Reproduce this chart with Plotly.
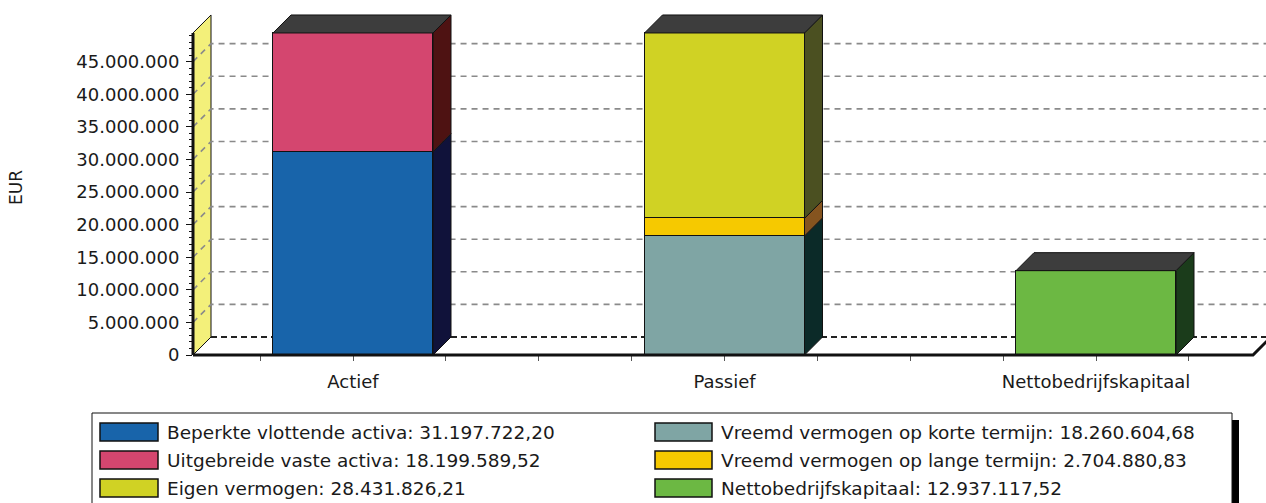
import plotly.graph_objects as go

# ---- data -------------------------------------------------------------
categories = ["Actief", "Passief", "Nettobedrijfskapitaal"]

actief_labels = ["Beperkte vlottende activa", "Uitgebreide vaste activa"]
actief_values = [31197722.20, 18199589.52]

passief_labels = ["Vreemd vermogen op korte termijn",
                  "Vreemd vermogen op lange termijn",
                  "Eigen vermogen"]
passief_values = [18260604.68, 2704880.83, 28431826.21]

netto_labels = ["Nettobedrijfskapitaal"]
netto_values = [12937117.52]

y_tick_values = [0, 5e6, 10e6, 15e6, 20e6, 25e6, 30e6, 35e6, 40e6, 45e6]

# legend order: left column then right column
legend_left = ["Beperkte vlottende activa", "Uitgebreide vaste activa", "Eigen vermogen"]
legend_right = ["Vreemd vermogen op korte termijn",
                "Vreemd vermogen op lange termijn",
                "Nettobedrijfskapitaal"]

# ---- styling ----------------------------------------------------------
front_colors = {
    "Beperkte vlottende activa": "#1864aa",
    "Uitgebreide vaste activa": "#d4466f",
    "Eigen vermogen": "#d0d224",
    "Vreemd vermogen op korte termijn": "#7fa5a4",
    "Vreemd vermogen op lange termijn": "#f6c900",
    "Nettobedrijfskapitaal": "#6cb843",
}
side_colors = {
    "Beperkte vlottende activa": "#10123a",
    "Uitgebreide vaste activa": "#4e1212",
    "Eigen vermogen": "#4b5021",
    "Vreemd vermogen op korte termijn": "#0b2a28",
    "Vreemd vermogen op lange termijn": "#85541f",
    "Nettobedrijfskapitaal": "#1b3c1b",
}
TOP_COLOR = "#3d3d3d"
WALL_COLOR = "#f3f07a"
FONT = "DejaVu Sans, Verdana, sans-serif"
TEXT_COLOR = "#1a1a1a"

W, H = 1266, 503
PLOT_LEFT, PLOT_RIGHT, PLOT_TOP, PLOT_BOTTOM = 193, 1266, 0, 355
CAT_PX = 371.5          # pixel distance between category centres
FIRST_CAT_PX = 353      # pixel position of the first category
PX_PER_EUR = 6.519e-6   # vertical scale
DEPTH_PX = 18           # 3D depth offset (right and up)
BAR_WIDTH = 160 / CAT_PX
FLOOR_RIGHT_PX = 1253

x_lo = (PLOT_LEFT - FIRST_CAT_PX) / CAT_PX
x_hi = (PLOT_RIGHT - FIRST_CAT_PX) / CAT_PX
y_hi = (PLOT_BOTTOM - PLOT_TOP) / PX_PER_EUR
DX = DEPTH_PX / CAT_PX
DY = DEPTH_PX / PX_PER_EUR
floor_right = (FLOOR_RIGHT_PX - FIRST_CAT_PX) / CAT_PX


def px_to_paper_x(px):
    return (px - PLOT_LEFT) / (PLOT_RIGHT - PLOT_LEFT)


def px_to_paper_y(py):
    return (PLOT_BOTTOM - py) / (PLOT_BOTTOM - PLOT_TOP)


def nl_number(v):
    s = f"{v:,.2f}"
    return s.replace(",", "#").replace(".", ",").replace("#", ".")


stacks = [
    (0, actief_labels, actief_values),
    (1, passief_labels, passief_values),
    (2, netto_labels, netto_values),
]
all_values = dict(zip(actief_labels + passief_labels + netto_labels,
                      actief_values + passief_values + netto_values))
max_total = max(sum(vals) for _, _, vals in stacks)

fig = go.Figure()

# front faces of the stacked bars
for xi, labels, values in stacks:
    for name, v in zip(labels, values):
        fig.add_trace(go.Bar(
            x=[xi], y=[v], width=BAR_WIDTH, name=name,
            marker=dict(color=front_colors[name], line=dict(color="#111", width=1)),
            showlegend=False, hoverinfo="skip",
        ))

# side and top faces giving the bars depth
for xi, labels, values in stacks:
    base = 0.0
    xr = xi + BAR_WIDTH / 2
    xl = xi - BAR_WIDTH / 2
    for name, v in zip(labels, values):
        top = base + v
        fig.add_trace(go.Scatter(
            x=[xr, xr + DX, xr + DX, xr, xr],
            y=[base, base + DY, top + DY, top, base],
            fill="toself", fillcolor=side_colors[name], mode="lines",
            line=dict(color="#111", width=1), showlegend=False, hoverinfo="skip",
        ))
        base = top
    fig.add_trace(go.Scatter(
        x=[xl, xl + DX, xr + DX, xr, xl],
        y=[base, base + DY, base + DY, base, base],
        fill="toself", fillcolor=TOP_COLOR, mode="lines",
        line=dict(color="#111", width=1), showlegend=False, hoverinfo="skip",
    ))

shapes = []
x0 = x_lo
# floor
shapes.append(dict(
    type="path", layer="below", xref="x", yref="y",
    path=f"M {x0},0 L {floor_right},0 L {floor_right + DX},{DY} L {x0 + DX},{DY} Z",
    fillcolor="#ffffff", line=dict(width=0),
))
# side wall
shapes.append(dict(
    type="path", layer="below", xref="x", yref="y",
    path=f"M {x0},0 L {x0 + DX},{DY} L {x0 + DX},{max_total + DY} L {x0},{max_total} Z",
    fillcolor=WALL_COLOR, line=dict(color="#111", width=1),
))
# gridlines on the wall and the back plane
for v in y_tick_values[1:]:
    shapes.append(dict(
        type="path", layer="below", xref="x", yref="y",
        path=f"M {x0},{v} L {x0 + DX},{v + DY} L {x_hi},{v + DY}",
        line=dict(color="#8a8a8a", width=1.6, dash="6px,5px"),
    ))
# back edge of the floor
shapes.append(dict(
    type="line", layer="below", xref="x", yref="y",
    x0=x0 + DX, y0=DY, x1=x_hi, y1=DY,
    line=dict(color="#222", width=2, dash="6px,4px"),
))
# front edge of the floor
dy_paper = DEPTH_PX / (PLOT_BOTTOM - PLOT_TOP)
shapes.append(dict(
    type="path", layer="above", xref="x", yref="paper",
    path=f"M {x0},0 L {floor_right},0 L {floor_right + DX},{dy_paper}",
    line=dict(color="#111", width=3),
))
# wall front edge (value axis line)
shapes.append(dict(
    type="line", layer="above", xref="paper", yref="y",
    x0=0, y0=0, x1=0, y1=max_total,
    line=dict(color="#111", width=3),
))

# ---- legend box --------------------------------------------------------
LEG_L, LEG_R, LEG_T, LEG_B = 92, 1232, 413, 515
shapes.append(dict(
    type="rect", xref="paper", yref="paper", layer="above",
    x0=px_to_paper_x(LEG_R), x1=px_to_paper_x(LEG_R + 7),
    y0=px_to_paper_y(LEG_T + 7), y1=px_to_paper_y(LEG_B),
    fillcolor="#000", line=dict(width=0),
))
shapes.append(dict(
    type="rect", xref="paper", yref="paper", layer="above",
    x0=px_to_paper_x(LEG_L), x1=px_to_paper_x(LEG_R),
    y0=px_to_paper_y(LEG_T), y1=px_to_paper_y(LEG_B),
    fillcolor="#fff", line=dict(color="#111", width=1),
))

annotations = []
row_centers = [432, 460, 488]
columns = [(legend_left, 100, 158, 165), (legend_right, 655, 712, 719)]
for names, sw_l, sw_r, text_x in columns:
    for name, yc in zip(names, row_centers):
        shapes.append(dict(
            type="rect", xref="paper", yref="paper", layer="above",
            x0=px_to_paper_x(sw_l), x1=px_to_paper_x(sw_r),
            y0=px_to_paper_y(yc + 9), y1=px_to_paper_y(yc - 9),
            fillcolor=front_colors[name], line=dict(color="#111", width=1.5),
        ))
        annotations.append(dict(
            xref="paper", yref="paper", x=px_to_paper_x(text_x), y=px_to_paper_y(yc),
            xanchor="left", yanchor="middle", showarrow=False,
            text=f"{name}: {nl_number(all_values[name])}",
            font=dict(family=FONT, size=18.5, color=TEXT_COLOR),
        ))

# value axis title
annotations.append(dict(
    xref="paper", yref="paper", x=px_to_paper_x(16), y=px_to_paper_y(188),
    xanchor="center", yanchor="middle", showarrow=False, textangle=-90,
    text="EUR", font=dict(family=FONT, size=17, color=TEXT_COLOR),
))

x_tick_vals = [-0.25, 0, 0.25, 0.5, 0.75, 1, 1.25, 1.5, 1.75, 2, 2.25]
x_tick_text = [categories[int(t)] if float(t).is_integer() else "" for t in x_tick_vals]

# minor ticks only along the wall edge
minor_tick_vals = [m * 1e6 for m in range(1, int(max_total // 1e6) + 1)]

fig.update_layout(
    width=W, height=H,
    margin=dict(l=PLOT_LEFT, r=W - PLOT_RIGHT, t=PLOT_TOP, b=H - PLOT_BOTTOM, pad=0),
    paper_bgcolor="#ffffff", plot_bgcolor="#ffffff",
    barmode="stack", bargap=0, showlegend=False,
    separators=",.",
    font=dict(family=FONT, size=18, color=TEXT_COLOR),
    shapes=shapes, annotations=annotations,
    xaxis=dict(
        range=[x_lo, x_hi], showgrid=False, zeroline=False, showline=False,
        tickmode="array", tickvals=x_tick_vals, ticktext=x_tick_text,
        ticks="outside", ticklen=5, tickwidth=1, tickcolor="#555",
        ticklabelstandoff=5,
        tickfont=dict(family=FONT, size=18, color=TEXT_COLOR),
        fixedrange=True,
    ),
    yaxis=dict(
        range=[0, y_hi], showgrid=False, zeroline=False, showline=False,
        tickmode="array", tickvals=y_tick_values, tickformat=",d",
        ticks="outside", ticklen=6, tickwidth=1, tickcolor="#111",
        ticklabelstandoff=3,
        tickfont=dict(family=FONT, size=18, color=TEXT_COLOR),
        minor=dict(ticks="outside", ticklen=3, tickcolor="#111",
                   tickmode="array", tickvals=minor_tick_vals, showgrid=False),
        fixedrange=True,
    ),
)

fig.write_html("out.html")
